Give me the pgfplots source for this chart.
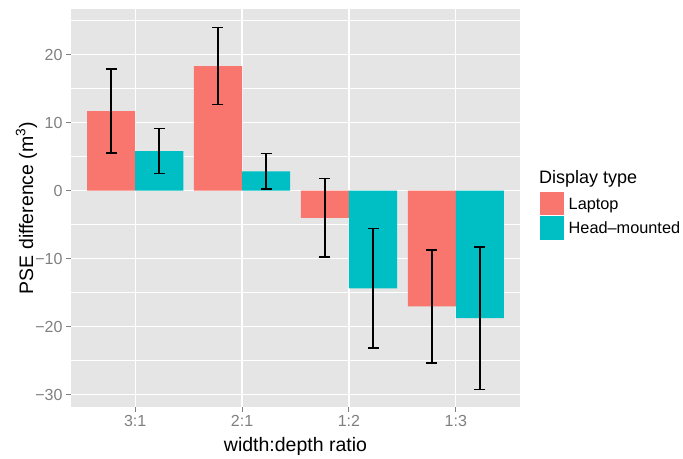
\documentclass[border=0pt]{standalone}
\usepackage{pgfplots}
\pgfplotsset{compat=1.18}
\usepackage{fontspec}
\setmainfont{Liberation Sans}
\definecolor{laptop}{HTML}{F8766D}
\definecolor{hmd}{HTML}{00BFC4}
\definecolor{panel}{HTML}{E5E5E5}
\definecolor{tickgrey}{HTML}{7F7F7F}

\begin{document}
\begin{tikzpicture}
\begin{axis}[
    at={(71pt,48pt)}, anchor=south west,
    scale only axis, width=449pt, height=398pt,
    xmin=0.4, xmax=4.6, ymin=-31.8, ymax=26.7,
    axis background/.style={fill=panel},
    axis line style={draw=none},
    tick pos=left, tick align=outside,
    major tick length=5pt, minor tick length=0pt,
    tick style={tickgrey, line width=1pt},
    xtick={1,2,3,4}, xticklabels={3:1,2:1,1:2,1:3},
    ytick={-30,-20,...,20}, yticklabels={−30,−20,−10,0,10,20},
    minor ytick={-25,-15,-5,5,15,25},
    grid=both,
    major grid style={white, line width=1.1pt},
    minor grid style={white, line width=0.55pt},
    ticklabel style={font=\fontsize{16}{19}\selectfont, text=tickgrey},
    every axis x label/.style={at={(axis description cs:0.5,-0.1118)}, anchor=base,
        font=\fontsize{19.5}{23}\selectfont},
    every axis y label/.style={at={(axis description cs:-0.0846,0.5)}, rotate=90, anchor=base,
        font=\fontsize{19.5}{23}\selectfont},
    xlabel={width:depth ratio},
    ylabel={PSE difference (m\textsuperscript{3})},
]
% Laptop
\addplot[ybar, bar width=0.45, bar shift=0pt, fill=laptop, draw=none,
    error bars/.cd, y dir=both, y explicit,
    error bar style={black, line width=1.5pt},
    error mark options={black, line width=1.5pt, mark size=5.5pt, rotate=90}]
coordinates {
    (0.775,11.7) +- (0,6.2)
    (1.775,18.3) +- (0,5.65)
    (2.775,-4.0) +- (0,5.75)
    (3.775,-17.0) +- (0,8.3)
};
% Head-mounted
\addplot[ybar, bar width=0.45, bar shift=0pt, fill=hmd, draw=none,
    error bars/.cd, y dir=both, y explicit,
    error bar style={black, line width=1.5pt},
    error mark options={black, line width=1.5pt, mark size=5.5pt, rotate=90}]
coordinates {
    (1.225,5.8) +- (0,3.3)
    (2.225,2.85) +- (0,2.6)
    (3.225,-14.35) +- (0,8.75)
    (4.225,-18.75) +- (0,10.45)
};
\end{axis}
% legend
\node[anchor=base west, inner sep=0pt, font=\fontsize{18}{21}\selectfont] at (539pt,271pt) {Display type};
\fill[laptop] (540pt,240pt) rectangle (563.5pt,263pt);
\fill[hmd] (540pt,215pt) rectangle (563.5pt,239pt);
\node[anchor=base west, inner sep=0pt, font=\fontsize{16.3}{19}\selectfont] at (568.5pt,245pt) {Laptop};
\node[anchor=base west, inner sep=0pt, font=\fontsize{16.3}{19}\selectfont] at (568.5pt,221pt) {Head–mounted};
\path (0,0) rectangle (683pt,455pt);
\end{tikzpicture}
\end{document}
